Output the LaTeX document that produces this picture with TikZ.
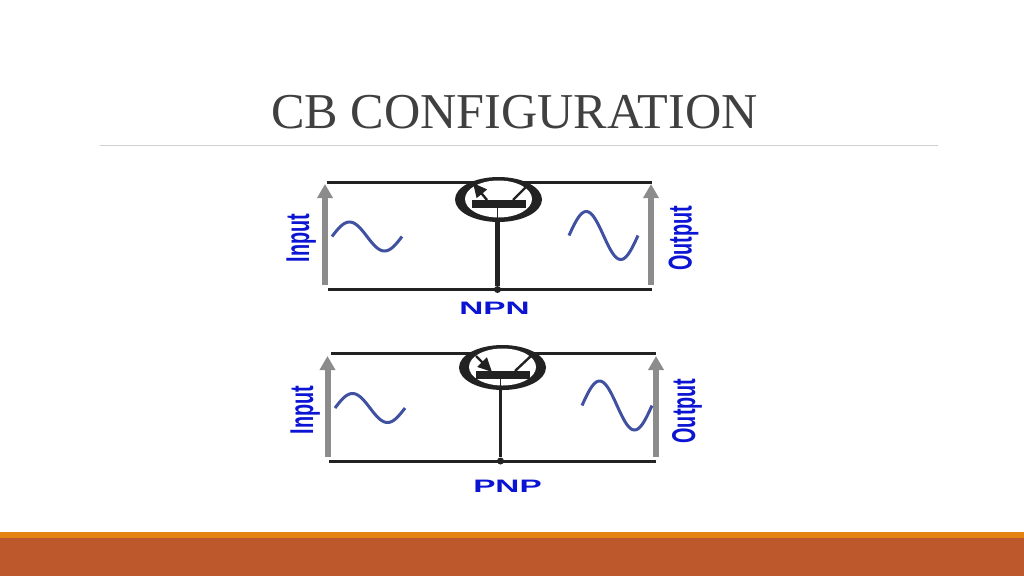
\documentclass[tikz,border=0pt]{standalone}
\usepackage{fontspec}
\setmainfont{Liberation Serif}
\setsansfont{Liberation Sans}
\usetikzlibrary{arrows.meta,shapes.geometric}
\definecolor{titlegray}{HTML}{404040}
\definecolor{rulegray}{HTML}{D0D0D0}
\definecolor{bandorange}{HTML}{E48312}
\definecolor{bandrust}{HTML}{BD582C}
\definecolor{wavepurple}{HTML}{3F51A0}
\definecolor{labelblue}{HTML}{0A14D2}
\definecolor{wirefill}{HTML}{222222}
\definecolor{arrowgray}{HTML}{8C8C8C}
\tikzset{
  wire/.style={draw=wirefill, line width=3pt},
  signal/.style={draw=arrowgray, line width=6pt, -{Triangle[width=15pt,length=14pt]}},
  wave/.style={draw=wavepurple, line width=3pt},
  bulb/.style={ellipse, fill=wirefill, minimum width=87pt, minimum height=45pt, inner sep=0pt},
  hole/.style={ellipse, fill=white, minimum width=67pt, minimum height=37pt, inner sep=0pt},
  basebar/.style={fill=wirefill, minimum width=54pt, minimum height=8pt, inner sep=0pt},
  lead/.style={draw=wirefill, line width=2.4pt},
  dot/.style={circle, fill=wirefill, minimum size=7pt, inner sep=0pt},
  sidelabel/.style={text=labelblue, font=\sffamily\bfseries\fontsize{33}{33}\selectfont, rotate=90, xscale=.6, anchor=base, inner sep=0pt},
  typelabel/.style={text=labelblue, font=\sffamily\bfseries\fontsize{18}{18}\selectfont, xscale=1.85, anchor=base, inner sep=0pt}
}

\begin{document}
\begin{tikzpicture}[x=1pt,y=-1pt]
  \useasboundingbox (0,0) rectangle (1024,576);

  \node (title) at (514.5,128) [anchor=base, text=titlegray, inner sep=0pt, font=\fontsize{50.2}{50.2}\selectfont] {CB CONFIGURATION};
  \draw[rulegray, line width=1.2pt] (100,145.5) -- (938,145.5);

  \fill[bandorange] (0,532) rectangle (1024,538);
  \fill[bandrust] (0,538) rectangle (1024,576);

  % NPN
  \coordinate (ntl) at (327,182);
  \coordinate (ntr) at (652,182);
  \coordinate (nbl) at (328,289.5);
  \coordinate (nbr) at (652,289.5);
  \draw[wire] (ntl) -- (ntr);
  \draw[wire] (nbl) -- (nbr);
  \node[dot] (ndot) at (497.5,289.5) {};

  \coordinate (nain) at (325,285);
  \coordinate (naint) at (325,184);
  \coordinate (naout) at (651,285);
  \coordinate (naoutt) at (651,184);
  \draw[signal] (nain) -- (naint);
  \draw[signal] (naout) -- (naoutt);

  \node[bulb] (nq) at (498.5,199.5) {};
  \node[hole] (nh) at (498.5,199) {};
  \node[basebar] (nbar) at (499,204) {};
  \draw[line width=1.5pt, draw=wirefill] (nbar.south -| ndot) -- (nh.south -| ndot);
  \draw[wirefill, line width=5pt] (nq.south -| ndot) -- (ndot);
  \coordinate (nem) at (487,200);
  \coordinate (nemt) at (473,183);
  \coordinate (ncol) at (513,200);
  \coordinate (ncolt) at (529,184);
  \draw[lead, -{Triangle[width=13pt,length=14pt]}] (nem) -- (nemt);
  \draw[lead] (ncol) -- (ncolt);

  \draw[wave, domain=0:1, samples=50] plot ({332+70*\x}, {236.5-14.5*sin(360*\x)});
  \draw[wave, domain=0:1, samples=50] plot ({569+69*\x}, {235.5-24*sin(360*\x)});

  \node[sidelabel] (ninput) at (309,238) {Input};
  \node[sidelabel] (noutput) at (691.5,238.5) {Output};
  \node[typelabel] (nname) at (494.5,314) {NPN};

  % PNP
  \coordinate (ptl) at (331,353);
  \coordinate (ptr) at (656,353);
  \coordinate (pbl) at (329,461);
  \coordinate (pbr) at (656,461);
  \draw[wire] (ptl) -- (ptr);
  \draw[wire] (pbl) -- (pbr);
  \node[dot] (pdot) at (500.5,461) {};

  \coordinate (pain) at (327.5,457);
  \coordinate (paint) at (327.5,356);
  \coordinate (paout) at (656,457);
  \coordinate (paoutt) at (656,356);
  \draw[signal] (pain) -- (paint);
  \draw[signal] (paout) -- (paoutt);

  \node[bulb] (pq) at (502.5,367.5) {};
  \node[hole] (ph) at (502.5,367) {};
  \node[basebar] (pbar) at (502.5,375) {};
  \draw[wirefill, line width=3.5pt] (pq.south -| pdot) -- (pdot);
  \draw[line width=1.5pt, draw=wirefill] (pbar.south -| pdot) -- (ph.south -| pdot);
  \coordinate (pem) at (476,356);
  \coordinate (pemt) at (492,372);
  \coordinate (pcol) at (515,371);
  \coordinate (pcolt) at (532,355);
  \draw[lead, -{Triangle[width=13pt,length=14pt]}] (pem) -- (pemt);
  \draw[lead] (pcol) -- (pcolt);

  \draw[wave, domain=0:1, samples=50] plot ({335+70*\x}, {408-14.5*sin(360*\x)});
  \draw[wave, domain=0:1, samples=50] plot ({582+70*\x}, {405.5-24.5*sin(360*\x)});

  \node[sidelabel] (pinput) at (313,410) {Input};
  \node[sidelabel] (poutput) at (695,411) {Output};
  \node[typelabel] (pname) at (507.5,492) {PNP};
\end{tikzpicture}
\end{document}
